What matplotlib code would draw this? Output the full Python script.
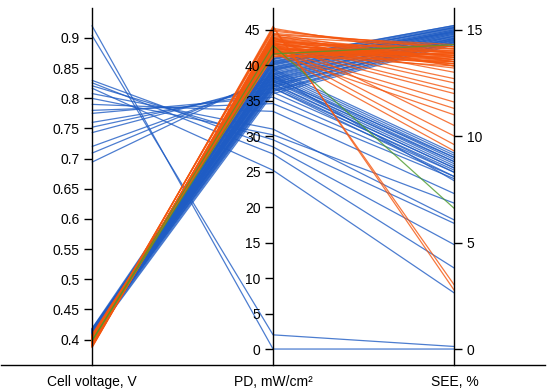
import matplotlib.pyplot as plt

plt.rcParams['font.family'] = ['Liberation Sans', 'DejaVu Sans']

# axes of the parallel plot
names = ['Cell voltage, V', 'PD, mW/cm²', 'SEE, %']
lims = [(0.358, 0.95), (-2.25, 48.1), (-0.75, 16.03)]
ticks = [[0.4, 0.45, 0.5, 0.55, 0.6, 0.65, 0.7, 0.75, 0.8, 0.85, 0.9],
         list(range(0, 50, 5)),
         [0, 5, 10, 15]]

# blue group: dense band
v_blue = [0.401, 0.403, 0.405, 0.407, 0.409, 0.411, 0.413, 0.415, 0.417,
          0.402, 0.404, 0.406, 0.408, 0.410, 0.412, 0.414, 0.416, 0.418,
          0.400, 0.403, 0.405, 0.408, 0.410, 0.412, 0.415, 0.417,
          0.401, 0.404, 0.406, 0.409, 0.411, 0.413, 0.416, 0.402, 0.407, 0.414]
pd_blue = [36.0, 36.3, 36.6, 36.9, 37.2, 37.5, 37.8, 38.1, 38.4,
           38.7, 39.0, 39.2, 39.4, 39.6, 39.8, 40.0, 40.2, 40.4,
           40.6, 40.8, 41.0, 36.4, 37.0, 37.6, 38.2, 38.8,
           39.3, 39.7, 40.1, 40.5, 40.9, 37.3, 38.0, 38.6, 39.5, 40.3]
see_blue = [14.3, 14.35, 14.4, 14.45, 14.5, 14.55, 14.6, 14.65, 14.7,
            14.75, 14.8, 14.85, 14.9, 14.9, 14.95, 15.0, 15.05, 15.1,
            15.1, 15.15, 15.2, 14.45, 14.55, 14.6, 14.7, 14.8,
            14.85, 14.95, 15.0, 15.1, 15.2, 14.4, 14.5, 14.6, 14.7, 14.9]

# blue group: band lines falling to lower SEE
v_blue2 = [0.401, 0.403, 0.405, 0.407, 0.409, 0.411, 0.404, 0.408, 0.412, 0.406]
pd_blue2 = [39.5, 39.2, 38.9, 38.6, 38.3, 38.0, 37.7, 37.4, 37.1, 36.8]
see_blue2 = [9.2, 9.1, 9.0, 8.9, 8.8, 8.7, 8.6, 8.5, 8.3, 8.1]

# blue group: high voltage cells
v_blue3 = [0.921, 0.905, 0.830, 0.826, 0.821, 0.817, 0.808, 0.800,
           0.790, 0.780, 0.775, 0.760, 0.752, 0.743, 0.720, 0.709, 0.694]
pd_blue3 = [0.0, 2.0, 28.5, 27.5, 29.5, 25.2, 31.0, 30.2,
            33.5, 34.6, 35.5, 36.2, 36.8, 37.3, 37.8, 38.2, 38.6]
see_blue3 = [0.0, 0.12, 4.9, 3.8, 5.9, 2.63, 6.06, 6.85,
             7.3, 8.0, 8.1, 8.3, 8.4, 8.5, 8.8, 9.0, 7.9]

# orange group: dense band
v_orange = [0.386, 0.388, 0.390, 0.392, 0.394, 0.396, 0.398, 0.400, 0.402, 0.404, 0.406, 0.408,
            0.387, 0.389, 0.391, 0.393, 0.395, 0.397, 0.399, 0.401, 0.403, 0.405, 0.407,
            0.388, 0.390, 0.392, 0.394, 0.396, 0.398, 0.400, 0.402, 0.404, 0.391, 0.395, 0.399, 0.403]
pd_orange = [44.5, 44.2, 43.9, 43.6, 43.3, 43.0, 42.7, 42.4, 42.1, 41.8, 41.5, 41.2,
             44.4, 44.0, 43.7, 43.4, 43.1, 42.8, 42.5, 42.2, 41.9, 41.6, 41.3,
             44.3, 43.8, 43.5, 43.2, 42.9, 42.6, 42.3, 42.0, 41.7, 43.0, 42.5, 42.0, 41.5]
see_orange = [14.2, 13.3, 13.9, 13.5, 14.1, 13.6, 13.8, 13.4, 14.0, 13.7, 13.3, 13.9,
              13.5, 14.2, 13.6, 14.0, 13.4, 13.8, 13.2, 14.1, 13.6, 13.9, 13.5,
              14.3, 13.7, 13.3, 13.9, 14.2, 13.5, 13.8, 13.4, 14.0, 13.6, 13.7, 13.8, 13.5]

# orange group: peak and falling lines
v_orange2 = [0.389, 0.392, 0.395, 0.397, 0.394,
             0.388, 0.390, 0.393, 0.395, 0.397, 0.399, 0.401, 0.403, 0.390, 0.394, 0.398, 0.402]
pd_orange2 = [45.5, 45.3, 45.0, 44.8, 45.2,
              43.8, 43.5, 43.2, 42.9, 42.6, 42.3, 42.0, 41.7, 44.0, 43.0, 42.5, 41.9]
see_orange2 = [2.75, 3.0, 13.9, 14.1, 13.7,
               13.0, 12.7, 12.5, 12.2, 12.0, 11.6, 11.3, 11.0, 10.5, 10.0, 9.6, 9.3]

# green lines
v_green = [0.398, 0.397]
pd_green = [41.6, 42.8]
see_green = [14.3, 6.6]

c_blue = '#1f5cc4'
c_orange = '#f4560e'
c_green = '#4c9a2a'


def to_host(val, k):
    # map a value of axis k onto the scale of the first axis
    lo, hi = lims[k]
    lo0, hi0 = lims[0]
    return lo0 + (val - lo) / (hi - lo) * (hi0 - lo0)


def draw(ax, vs, pds, sees, col):
    for v, p, s in zip(vs, pds, sees):
        ax.plot([0, 1, 2], [v, to_host(p, 1), to_host(s, 2)],
                color=col, lw=0.9, alpha=0.8, solid_capstyle='butt')


fig = plt.figure(figsize=(5.5, 3.91), dpi=100)
ax = fig.add_axes([0.002, 0.0665, 0.989, 0.9135])
ax.set_xlim(-0.5, 2.5)
ax.set_ylim(*lims[0])

draw(ax, v_blue3, pd_blue3, see_blue3, c_blue)
draw(ax, v_blue, pd_blue, see_blue, c_blue)
draw(ax, v_blue2, pd_blue2, see_blue2, c_blue)
draw(ax, v_orange, pd_orange, see_orange, c_orange)
draw(ax, v_orange2, pd_orange2, see_orange2, c_orange)
draw(ax, v_green, pd_green, see_green, c_green)

ax1 = ax.twinx()
ax2 = ax.twinx()
axs = [ax, ax1, ax2]

for k, a in enumerate(axs):
    a.set_ylim(*lims[k])
    for s in a.spines.values():
        s.set_visible(False)
    side = 'right' if k == 2 else 'left'
    a.spines[side].set_visible(True)
    a.spines[side].set_position(('data', k))
    a.spines[side].set_linewidth(1.0)
    a.yaxis.set_ticks_position(side)
    a.set_yticks(ticks[k])
    a.set_yticklabels([f'{t:g}' for t in ticks[k]])
    a.tick_params(axis='y', length=6, width=1.0, pad=3, labelsize=10)

ax.spines['bottom'].set_visible(True)
ax.spines['bottom'].set_linewidth(1.0)
ax.set_xticks([0, 1, 2])
ax.set_xticklabels(names)
ax.tick_params(axis='x', length=0, pad=7, labelsize=10)

fig.savefig('out.png', dpi=100)
